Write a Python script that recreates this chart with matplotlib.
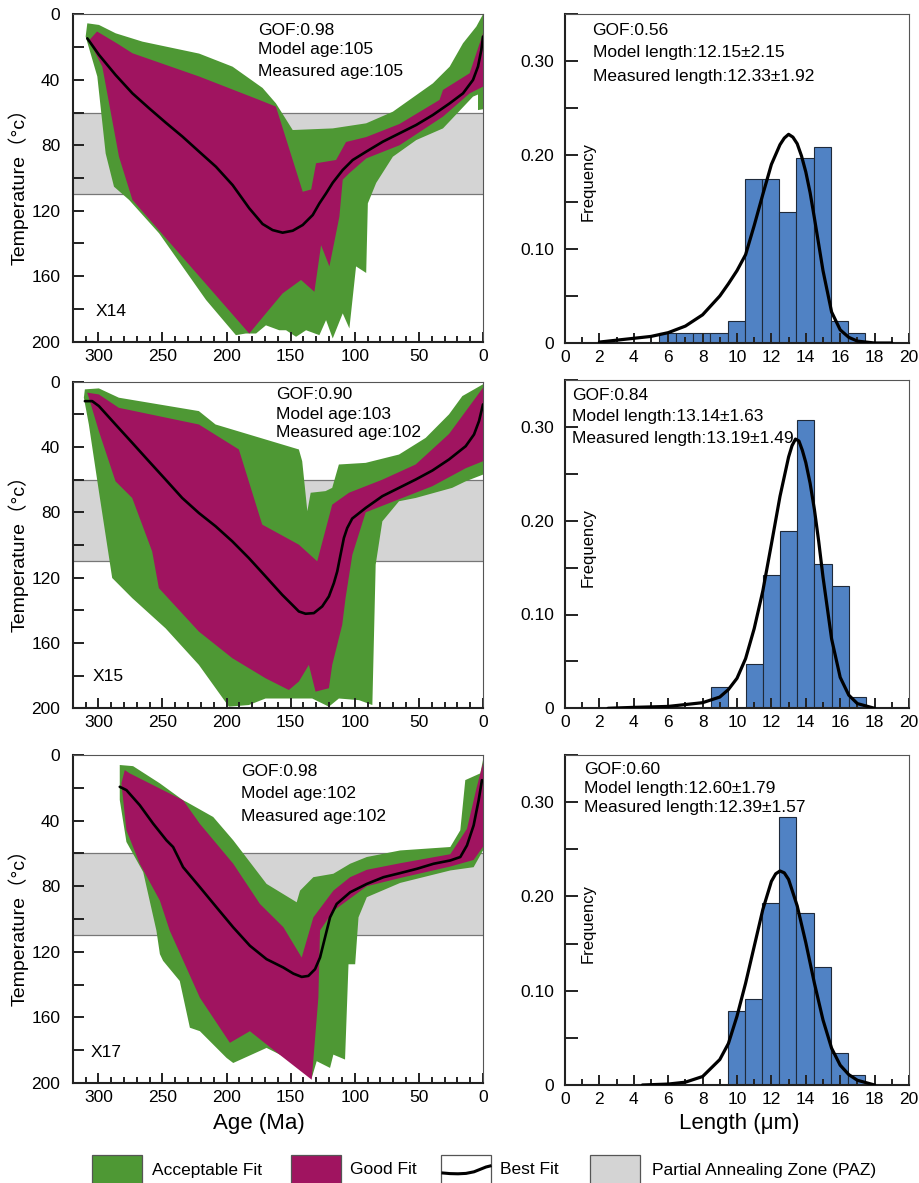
import numpy as np
import matplotlib.pyplot as plt
from matplotlib.patches import Rectangle
from matplotlib.ticker import MultipleLocator, FuncFormatter

plt.rcParams['font.family'] = ['Liberation Sans', 'DejaVu Sans']

GREEN = '#4e9834'
MAGENTA = '#a01460'
PAZ_GRAY = '#d4d4d4'
BAR_BLUE = '#5082c4'

PAZ = (60, 110)

# ---- X14 thermal history ----
X14_ACC_AGE = [308.6, 299.5, 286.5, 265.6, 221.4, 195.3, 171.9, 161.5, 148.4, 117.2, 91.1, 70.3, 39.1, 26.0, 15.6, 5.2, 0.0,
               0.0, 3.9, 3.9, 7.8, 31.2, 52.0, 70.3, 83.3, 89.8, 91.1, 99.0, 104.2, 109.4, 117.2, 122.4, 127.6, 138.0,
               145.8, 153.6, 158.9, 169.3, 177.0, 185.0, 192.7, 216.0, 252.6, 276.0, 287.8, 294.3, 300.8, 309.9]
X14_ACC_TEMP = [5.5, 6.5, 11.6, 16.7, 24.0, 32.0, 45.0, 54.4, 70.7, 69.7, 66.6, 59.5, 42.2, 32.0, 17.7, 7.5, 0.0,
                58.0, 58.5, 49.0, 50.3, 69.7, 76.8, 87.0, 103.0, 115.5, 158.0, 154.0, 191.9, 182.7, 198.0, 186.8, 196.0, 193.0,
                197.0, 193.0, 193.0, 190.0, 195.0, 195.0, 196.0, 174.5, 133.8, 113.4, 105.3, 85.0, 38.0, 13.6]
X14_GOOD_AGE = [307.3, 301.0, 285.0, 273.4, 221.4, 174.5, 161.5, 140.6, 134.0, 130.2, 114.6, 106.8, 91.1, 65.1, 33.9, 31.2,
                10.4, 2.6, 0.0, 0.0, 10.4, 31.2, 65.1, 91.0, 104.2, 109.4, 112.0, 119.8, 126.3, 131.5, 141.9, 156.3,
                169.3, 182.3, 221.4, 273.4, 283.9, 296.9]
X14_GOOD_TEMP = [16.0, 10.5, 18.0, 23.8, 38.0, 52.3, 56.4, 108.4, 107.0, 91.0, 89.0, 78.0, 75.0, 67.0, 52.3, 46.2,
                 36.0, 17.7, 11.6, 44.2, 48.3, 62.5, 80.0, 88.0, 97.0, 101.0, 123.6, 154.0, 141.0, 169.5, 162.3, 170.5,
                 182.7, 195.0, 160.0, 113.4, 87.0, 32.0]
X14_BEST_AGE = [308.6, 299.5, 286.5, 273.4, 260.4, 247.4, 234.4, 221.4, 208.3, 195.3, 182.3, 171.9, 164.1, 156.3,
                148.4, 140.6, 132.8, 127.6, 122.4, 117.2, 109.4, 101.6, 91.1, 78.1, 65.1, 52.1, 39.1, 26.0, 15.6,
                7.8, 3.9, 1.3, 0.0]
X14_BEST_TEMP = [14.7, 24.8, 37.1, 48.3, 57.4, 66.2, 74.7, 83.9, 93.1, 104.3, 118.5, 128.1, 131.8, 133.4,
                 132.2, 128.7, 122.6, 115.5, 109.4, 102.9, 95.1, 89.0, 83.9, 77.8, 72.7, 67.6, 61.5, 54.4, 48.3,
                 40.1, 31.9, 21.8, 13.6]

# ---- X15 thermal history ----
X15_ACC_AGE = [310.5, 299.6, 284.0, 221.6, 208.6, 143.6, 141.0, 137.0, 134.4, 122.8, 117.6, 112.4, 91.5, 65.5, 44.7,
               26.5, 16.1, 0.0, 0.0, 13.5, 24.0, 52.5, 65.5, 78.5, 83.7, 86.3, 96.7, 112.4, 120.2, 133.2, 148.8,
               169.6, 182.6, 198.2, 221.6, 247.6, 273.6, 289.2, 299.6, 307.4, 311.3]
X15_ACC_TEMP = [4.7, 4.1, 9.8, 18.0, 26.2, 41.5, 48.7, 79.3, 68.0, 67.0, 65.0, 50.7, 49.7, 44.6, 34.4,
                20.0, 8.8, 1.6, 56.9, 61.0, 65.0, 71.2, 73.2, 85.5, 112.0, 198.0, 195.0, 194.0, 199.0, 194.0, 194.0,
                194.0, 198.0, 199.0, 173.4, 151.0, 132.5, 120.2, 67.0, 26.2, 9.8]
X15_GOOD_AGE = [308.7, 299.6, 284.0, 221.6, 190.4, 172.2, 143.6, 129.3, 117.6, 104.5, 78.5, 52.5, 26.5, 0.0,
                0.0, 13.5, 39.5, 65.5, 91.5, 101.9, 107.2, 109.8, 117.6, 120.2, 130.6, 135.8, 143.6, 151.4, 169.6,
                195.5, 221.6, 252.8, 258.0, 273.6, 286.6, 299.6, 307.4]
X15_GOOD_TEMP = [6.7, 7.8, 16.0, 26.2, 41.5, 87.5, 99.8, 110.0, 75.3, 68.0, 60.0, 50.7, 32.0, 3.7,
                 48.7, 53.0, 64.0, 72.0, 80.0, 106.0, 132.5, 148.9, 173.4, 187.7, 189.8, 173.4, 183.6, 188.8, 181.6,
                 169.3, 153.0, 126.4, 104.0, 71.2, 61.0, 30.3, 9.8]
X15_BEST_AGE = [310.5, 304.8, 299.6, 286.6, 273.6, 260.6, 247.6, 234.6, 221.6, 208.6, 195.6, 182.6, 169.6, 156.6,
                148.8, 143.6, 138.4, 131.9, 125.4, 120.2, 116.3, 113.7, 111.1, 108.5, 105.9, 102.0, 91.5, 78.5,
                65.5, 52.5, 39.5, 26.5, 13.5, 7.0, 3.1, 0.0]
X15_BEST_TEMP = [11.9, 11.9, 14.9, 26.2, 37.4, 48.7, 59.9, 71.2, 80.4, 88.5, 97.7, 108.0, 119.2, 130.5,
                 136.6, 140.7, 142.1, 141.7, 137.6, 131.5, 123.3, 116.2, 105.9, 95.7, 89.6, 83.8, 77.3, 70.1,
                 65.0, 59.9, 54.4, 47.6, 39.5, 32.3, 24.1, 13.9]

# ---- X17 thermal history ----
X17_ACC_AGE = [283.3, 272.9, 252.0, 233.9, 231.3, 210.4, 194.8, 168.8, 145.3, 142.7, 132.3, 116.7, 103.6, 90.6, 64.6,
               25.5, 17.7, 13.8, 2.1, 0.0, 0.0, 7.3, 25.5, 64.6, 90.6, 97.1, 99.7, 104.9, 107.6, 116.7, 119.3, 129.7,
               133.6, 142.7, 168.8, 194.8, 200.0, 220.8, 228.6, 236.5, 249.5, 252.0, 254.7, 265.0, 278.1, 283.3]
X17_ACC_TEMP = [6.1, 6.8, 17.3, 27.6, 28.6, 37.8, 52.0, 78.6, 89.8, 82.7, 74.5, 72.4, 66.3, 62.2, 58.2,
                56.1, 45.9, 15.3, 11.2, 3.0, 58.2, 68.4, 70.4, 78.0, 86.7, 99.0, 127.6, 127.6, 185.7, 182.7, 190.8, 186.7,
                197.0, 188.8, 178.6, 187.8, 184.7, 168.4, 166.3, 137.8, 125.5, 121.4, 107.1, 71.4, 53.0, 27.4]
X17_GOOD_AGE = [282.0, 279.4, 275.5, 233.9, 220.8, 194.8, 174.0, 155.7, 141.4, 132.3, 116.7, 103.6, 90.6, 64.6, 25.5,
                12.5, 5.0, 0.0, 0.0, 7.3, 25.5, 64.6, 90.6, 116.7, 127.1, 128.4, 133.6, 168.8, 181.8, 197.4, 220.8,
                244.3, 252.0, 267.7, 278.1]
X17_GOOD_TEMP = [17.3, 9.2, 11.2, 27.6, 42.0, 66.3, 90.8, 105.0, 123.5, 99.0, 82.7, 74.5, 70.0, 66.0, 60.5,
                 45.0, 20.0, 5.0, 56.0, 64.0, 68.0, 75.0, 80.0, 95.0, 107.0, 148.0, 198.0, 176.5, 168.4, 175.5, 148.0,
                 107.1, 88.8, 66.3, 45.9]
X17_BEST_AGE = [283.3, 278.1, 267.7, 257.3, 246.9, 241.7, 233.9, 220.8, 207.8, 194.8, 181.8, 168.8, 155.7, 147.9,
                141.4, 136.2, 131.0, 127.1, 123.2, 119.3, 114.1, 103.6, 90.6, 77.6, 64.6, 51.6, 38.5, 25.5, 17.7,
                12.5, 7.3, 3.4, 0.8]
X17_BEST_TEMP = [19.4, 21.4, 30.6, 41.8, 52.0, 56.1, 68.4, 80.6, 92.9, 105.1, 116.3, 124.5, 129.6, 133.3,
                 135.3, 134.7, 130.6, 123.5, 111.2, 99.0, 90.8, 83.7, 78.6, 74.5, 72.0, 69.4, 66.3, 64.3, 62.2,
                 55.1, 42.9, 27.6, 15.3]

# ---- track length histograms ----
X14_BIN_LEFT = [5.45, 6.45, 7.45, 8.45, 9.45, 10.45, 11.45, 12.45, 13.45, 14.45, 15.45, 16.45]
X14_FREQ = [0.011, 0.011, 0.011, 0.011, 0.023, 0.174, 0.174, 0.139, 0.197, 0.209, 0.023, 0.011]
X14_MODEL_LEN = [2, 3, 4, 5, 6, 7, 8, 9, 9.5, 10, 10.5, 11, 11.5, 12, 12.5, 12.75, 13, 13.25, 13.5, 13.75, 14,
                 14.25, 14.5, 14.75, 15, 15.5, 16, 16.5, 17, 18, 19]
X14_MODEL_FREQ = [0.001, 0.003, 0.005, 0.007, 0.011, 0.018, 0.03, 0.05, 0.063, 0.077, 0.094, 0.125, 0.158, 0.19,
                  0.211, 0.218, 0.222, 0.219, 0.212, 0.199, 0.182, 0.16, 0.133, 0.105, 0.077, 0.033, 0.014, 0.006,
                  0.002, 0.0, 0.0]

X15_BIN_LEFT = [8.5, 10.5, 11.5, 12.5, 13.5, 14.5, 15.5, 16.5]
X15_FREQ = [0.023, 0.047, 0.142, 0.189, 0.307, 0.154, 0.130, 0.012]
X15_MODEL_LEN = [2.5, 4, 6, 8, 9, 9.5, 10, 10.5, 11, 11.5, 12, 12.5, 13, 13.2, 13.4, 13.6, 13.8, 14, 14.25, 14.5,
                 14.75, 15, 15.5, 16, 16.5, 17, 18]
X15_MODEL_FREQ = [0.0, 0.001, 0.002, 0.006, 0.012, 0.02, 0.032, 0.053, 0.085, 0.125, 0.175, 0.226, 0.268, 0.28,
                  0.287, 0.285, 0.275, 0.262, 0.24, 0.212, 0.178, 0.14, 0.074, 0.033, 0.014, 0.005, 0.0]

X17_BIN_LEFT = [9.45, 10.45, 11.45, 12.45, 13.45, 14.45, 15.45, 16.45]
X17_FREQ = [0.079, 0.091, 0.193, 0.284, 0.182, 0.125, 0.034, 0.011]
X17_MODEL_LEN = [4.5, 6, 7, 8, 9, 9.5, 10, 10.5, 11, 11.5, 12, 12.25, 12.5, 12.75, 13, 13.5, 14, 14.5, 15, 15.5,
                 16, 16.5, 17, 18]
X17_MODEL_FREQ = [0.0, 0.001, 0.003, 0.009, 0.027, 0.044, 0.073, 0.108, 0.147, 0.186, 0.216, 0.224, 0.227, 0.225,
                  0.218, 0.19, 0.151, 0.108, 0.069, 0.039, 0.021, 0.011, 0.005, 0.0]

SAMPLE_NAMES = ['X14', 'X15', 'X17']
AGE_TEXT = [
    ['GOF:0.98', 'Model age:105', 'Measured age:105'],
    ['GOF:0.90', 'Model age:103', 'Measured age:102'],
    ['GOF:0.98', 'Model age:102', 'Measured age:102'],
]
LENGTH_TEXT = [
    ['GOF:0.56', 'Model length:12.15\u00b12.15', 'Measured length:12.33\u00b11.92'],
    ['GOF:0.84', 'Model length:13.14\u00b11.63', 'Measured length:13.19\u00b11.49'],
    ['GOF:0.60', 'Model length:12.60\u00b11.79', 'Measured length:12.39\u00b11.57'],
]

PATHS = [
    (X14_ACC_AGE, X14_ACC_TEMP, X14_GOOD_AGE, X14_GOOD_TEMP, X14_BEST_AGE, X14_BEST_TEMP),
    (X15_ACC_AGE, X15_ACC_TEMP, X15_GOOD_AGE, X15_GOOD_TEMP, X15_BEST_AGE, X15_BEST_TEMP),
    (X17_ACC_AGE, X17_ACC_TEMP, X17_GOOD_AGE, X17_GOOD_TEMP, X17_BEST_AGE, X17_BEST_TEMP),
]
HISTS = [
    (X14_BIN_LEFT, X14_FREQ, X14_MODEL_LEN, X14_MODEL_FREQ),
    (X15_BIN_LEFT, X15_FREQ, X15_MODEL_LEN, X15_MODEL_FREQ),
    (X17_BIN_LEFT, X17_FREQ, X17_MODEL_LEN, X17_MODEL_FREQ),
]

# layout (pixels of the 920x1183 canvas)
W, H = 920, 1183
LEFT_ROWS = [(14.3, 341.7), (381.7, 708.3), (755.0, 1083.0)]
RIGHT_ROWS = [(14.0, 343.0), (380.0, 708.3), (755.0, 1085.0)]
AGE_TEXT_X = [0.452, 0.496, 0.41]
AGE_TEXT_Y = [(0.952, 0.891, 0.824), (0.962, 0.901, 0.843), (0.949, 0.884, 0.811)]
LEN_TEXT_X = [0.08, 0.02, 0.056]
LEN_TEXT_Y = [(0.949, 0.882, 0.811), (0.952, 0.890, 0.822), (0.955, 0.897, 0.842)]
NAME_POS = [(0.057, 0.091), (0.049, 0.097), (0.044, 0.092)]


def style_spines(ax):
    for side in ['left', 'bottom']:
        ax.spines[side].set_linewidth(1.5)
        ax.spines[side].set_color('#222222')
    for side in ['top', 'right']:
        ax.spines[side].set_linewidth(0.8)
        ax.spines[side].set_color('#555555')


def draw_path(ax, i):
    acc_age, acc_temp, good_age, good_temp, best_age, best_temp = PATHS[i]
    ax.axhspan(PAZ[0], PAZ[1], facecolor=PAZ_GRAY, edgecolor='none', zorder=0)
    for t in PAZ:
        ax.axhline(t, color='#777777', lw=0.9, zorder=0.5)
    ax.fill(acc_age, acc_temp, color=GREEN, lw=0, zorder=1)
    ax.fill(good_age, good_temp, color=MAGENTA, lw=0, zorder=2)
    ax.plot(best_age, best_temp, color='black', lw=1.9, zorder=3,
            solid_joinstyle='round', solid_capstyle='round')

    ax.set_xlim(320, 0)
    ax.set_ylim(200, 0)
    ax.xaxis.set_major_locator(MultipleLocator(50))
    ax.xaxis.set_minor_locator(MultipleLocator(10))
    ax.yaxis.set_major_locator(MultipleLocator(40))
    ax.yaxis.set_minor_locator(MultipleLocator(20))
    ax.tick_params(axis='both', which='both', direction='in', width=1.4, colors='#222222',
                   labelsize=12.5, labelcolor='black')
    ax.tick_params(axis='x', which='major', length=7, pad=5)
    ax.tick_params(axis='x', which='minor', length=4)
    ax.tick_params(axis='y', which='both', length=8, pad=9)
    style_spines(ax)

    ax.set_ylabel('Temperature\uff08\u00b0c\uff09', fontsize=14,
                  family=['Liberation Sans', 'Noto Sans CJK SC'])
    ax.yaxis.set_label_coords(-0.108, 0.49)

    for line, y in zip(AGE_TEXT[i], AGE_TEXT_Y[i]):
        ax.text(AGE_TEXT_X[i], y, line, transform=ax.transAxes, fontsize=12.5,
                ha='left', va='center', zorder=5)
    nx, ny = NAME_POS[i]
    ax.text(nx, ny, SAMPLE_NAMES[i], transform=ax.transAxes, fontsize=12.5,
            ha='left', va='center', zorder=5)


def draw_hist(ax, i):
    bin_left, freq, model_len, model_freq = HISTS[i]
    ax.bar(bin_left, freq, width=1.0, align='edge', color=BAR_BLUE,
           edgecolor='#1f2a3a', linewidth=0.8, zorder=1)
    ax.plot(model_len, model_freq, color='black', lw=2.3, zorder=3,
            solid_joinstyle='round', solid_capstyle='round')

    ax.set_xlim(0, 20)
    ax.set_ylim(0, 0.35)
    ax.xaxis.set_major_locator(MultipleLocator(2))
    ax.xaxis.set_minor_locator(MultipleLocator(1))
    ax.yaxis.set_major_locator(MultipleLocator(0.1))
    ax.yaxis.set_minor_locator(MultipleLocator(0.05))
    ax.yaxis.set_major_formatter(FuncFormatter(lambda v, p: '0' if abs(v) < 1e-9 else f'{v:.2f}'))
    ax.tick_params(axis='both', which='both', direction='in', width=1.4, colors='#222222',
                   labelsize=12.5, labelcolor='black')
    ax.tick_params(axis='x', which='major', length=7, pad=5)
    ax.tick_params(axis='x', which='minor', length=4)
    ax.tick_params(axis='y', which='both', length=9, pad=8)
    style_spines(ax)

    ax.text(0.067, 0.49, 'Frequency', transform=ax.transAxes, rotation=90,
            fontsize=12, ha='center', va='center')
    for line, y in zip(LENGTH_TEXT[i], LEN_TEXT_Y[i]):
        ax.text(LEN_TEXT_X[i], y, line, transform=ax.transAxes, fontsize=12.5,
                ha='left', va='center', zorder=5)


fig = plt.figure(figsize=(W / 100, H / 100), dpi=100)

for i in range(3):
    top, bot = LEFT_ROWS[i]
    ax_l = fig.add_axes([72.7 / W, 1 - bot / H, (483 - 72.7) / W, (bot - top) / H])
    draw_path(ax_l, i)
    top, bot = RIGHT_ROWS[i]
    ax_r = fig.add_axes([565 / W, 1 - bot / H, (909 - 565) / W, (bot - top) / H])
    draw_hist(ax_r, i)

fig.text(259 / W, 1 - 1124 / H, 'Age (Ma)', fontsize=16, ha='center', va='center')
fig.text(739 / W, 1 - 1124 / H, 'Length (\u03bcm)', fontsize=16, ha='center', va='center')

# legend strip along the bottom, in canvas pixels
leg = fig.add_axes([0, 0, 1, 40 / H])
leg.set_xlim(0, W)
leg.set_ylim(0, 40)
leg.axis('off')
for x0, fc in [(92, GREEN), (291, MAGENTA), (441, 'white'), (590, PAZ_GRAY)]:
    leg.add_patch(Rectangle((x0, -4), 50, 32, facecolor=fc, edgecolor='#555555', lw=0.9))
leg.plot([443, 450, 458, 466, 474, 480, 486, 490],
         [10, 9.4, 9.2, 9.6, 11.2, 13.6, 16, 17], color='black', lw=2.2)
for x0, label in [(152, 'Acceptable Fit'), (350, 'Good Fit'), (500, 'Best Fit'),
                  (652, 'Partial Annealing Zone (PAZ)')]:
    leg.text(x0, 13, label, fontsize=12.5, ha='left', va='center')

fig.savefig('out.png', dpi=100)
